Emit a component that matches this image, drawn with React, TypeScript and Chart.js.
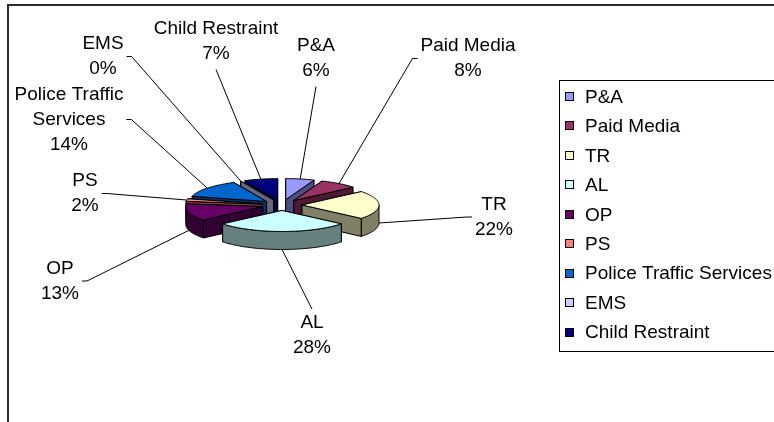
import React, { useEffect, useRef } from "react";
import { Chart, registerables } from "chart.js";

Chart.register(...registerables);

// ---- data ----
const categories = [
  "P&A",
  "Paid Media",
  "TR",
  "AL",
  "OP",
  "PS",
  "Police Traffic Services",
  "EMS",
  "Child Restraint",
];
const shares = [6, 8, 22, 28, 13, 2, 14, 0, 7];
const sliceColors = [
  "#9999FF",
  "#993366",
  "#FFFFCC",
  "#CCFFFF",
  "#660066",
  "#FF8080",
  "#0066CC",
  "#CCCCFF",
  "#000080",
];
const labelText = [
  ["P&A"],
  ["Paid Media"],
  ["TR"],
  ["AL"],
  ["OP"],
  ["PS"],
  ["Police Traffic", "Services"],
  ["EMS"],
  ["Child Restraint"],
];

// ---- layout (not data) ----
const TILT = 0.273; // vertical squash of the pie disc
const DEPTH = 18; // thickness of the pie in px
const EXPLODE = 20;
const RADIUS = 77;
// label block centres, relative to the pie centre
const labelOffsets: [number, number][] = [
  [34, -146.5],
  [186, -146.5],
  [212, 12],
  [30, 130],
  [-222, 76],
  [-197, -11.5],
  [-213, -85.5],
  [-179, -148.5],
  [-66, -163.5],
];
const FONT = "Liberation Sans, Arial, sans-serif";

function shade(hex: string, f: number) {
  const n = parseInt(hex.slice(1), 16);
  const r = Math.round(((n >> 16) & 255) * f);
  const g = Math.round(((n >> 8) & 255) * f);
  const b = Math.round((n & 255) * f);
  return `rgb(${r},${g},${b})`;
}

type Pt = [number, number];

function poly(ctx: CanvasRenderingContext2D, pts: Pt[], fill: string) {
  ctx.beginPath();
  ctx.moveTo(pts[0][0], pts[0][1]);
  for (let i = 1; i < pts.length; i++) ctx.lineTo(pts[i][0], pts[i][1]);
  ctx.closePath();
  ctx.fillStyle = fill;
  ctx.fill();
  ctx.stroke();
}

function sliceGeom(arc: any) {
  const p = arc.getProps(["x", "y", "startAngle", "endAngle", "outerRadius"], true);
  const off = (arc.options && arc.options.offset) || 0;
  const mid = (p.startAngle + p.endAngle) / 2;
  const ex = p.x + off * Math.cos(mid);
  const ey = p.y + TILT * off * Math.sin(mid);
  const R = p.outerRadius;
  const P = (t: number, z: number): Pt => [ex + R * Math.cos(t), ey + TILT * R * Math.sin(t) + z];
  return { ...p, off, mid, ex, ey, R, P };
}

function arcPts(P: (t: number, z: number) => Pt, t0: number, t1: number, z: number): Pt[] {
  const n = Math.max(2, Math.ceil(Math.abs(t1 - t0) / 0.02));
  const out: Pt[] = [];
  for (let k = 0; k <= n; k++) out.push(P(t0 + ((t1 - t0) * k) / n, z));
  return out;
}

const pie3d = {
  id: "pie3d",
  beforeDatasetsDraw(chart: any) {
    const ctx: CanvasRenderingContext2D = chart.ctx;
    const meta = chart.getDatasetMeta(0);
    const colors: string[] = chart.data.datasets[0].backgroundColor;
    const items = meta.data.map((arc: any, i: number) => ({ i, g: sliceGeom(arc) }));
    items.sort((a: any, b: any) => Math.sin(a.g.mid) - Math.sin(b.g.mid));
    ctx.save();
    ctx.lineWidth = 1;
    ctx.strokeStyle = "#000";
    ctx.lineJoin = "round";
    for (const it of items) {
      const g = it.g;
      const col = colors[it.i];
      const dark = shade(col, 0.5);
      const a = g.startAngle;
      const b = g.endAngle;
      const walls = [
        { ang: a, vis: Math.cos(a) < 0 },
        { ang: b, vis: Math.cos(b) > 0 },
      ].sort((w1, w2) => (w1.vis ? 1 : 0) - (w2.vis ? 1 : 0));
      for (const w of walls) {
        poly(ctx, [[g.ex, g.ey], g.P(w.ang, 0), g.P(w.ang, DEPTH), [g.ex, g.ey + DEPTH]], dark);
      }
      const lo = Math.max(a, 0);
      const hi = Math.min(b, Math.PI);
      if (hi - lo > 1e-6) {
        const top = arcPts(g.P, lo, hi, 0);
        const bot = arcPts(g.P, hi, lo, DEPTH);
        poly(ctx, [...top, ...bot], dark);
      }
      if (b - a > 1e-6) {
        poly(ctx, [[g.ex, g.ey], ...arcPts(g.P, a, b, 0)], col);
      }
    }
    ctx.restore();
    return false;
  },
  afterDraw(chart: any) {
    const ctx: CanvasRenderingContext2D = chart.ctx;
    const meta = chart.getDatasetMeta(0);
    const ds = chart.data.datasets[0];
    const values: number[] = ds.data;
    const colors: string[] = ds.backgroundColor;
    const labels: string[] = chart.data.labels;
    const total = values.reduce((s, v) => s + v, 0);
    ctx.save();

    // outer frame
    ctx.fillStyle = "#2a2a2a";
    ctx.fillRect(7, 4, chart.width, 2);
    ctx.fillRect(7, 4, 2, chart.height);

    // data labels with leader lines
    ctx.font = `19px ${FONT}`;
    ctx.textAlign = "center";
    ctx.textBaseline = "middle";
    ctx.strokeStyle = "#000";
    ctx.lineWidth = 1;
    const lh = 25;
    meta.data.forEach((arc: any, i: number) => {
      const g = sliceGeom(arc);
      const lines = [...labelText[i], `${Math.round((values[i] / total) * 100)}%`];
      const [dx, dy] = labelOffsets[i];
      const lx = g.x + dx;
      const ly = g.y + dy;
      const w = Math.max(...lines.map((s) => ctx.measureText(s).width));
      const h = (lines.length * lh) / 2;
      const slicePt = g.P(g.mid, Math.sin(g.mid) > -0.1 ? DEPTH : 0);
      const path: Pt[] = [slicePt];
      if (Math.abs(dx) > 120) {
        if (dx < 0) {
          path.push([lx + w / 2 + 8, ly], [lx + w / 2 + 3, ly]);
        } else {
          path.push([lx - w / 2 - 8, ly], [lx - w / 2 - 3, ly]);
        }
      } else if (dy < 0) {
        path.push([lx, ly + h + 3]);
      } else {
        path.push([lx, ly - h - 1]);
      }
      ctx.beginPath();
      ctx.moveTo(path[0][0], path[0][1]);
      for (let k = 1; k < path.length; k++) ctx.lineTo(path[k][0], path[k][1]);
      ctx.stroke();
      ctx.fillStyle = "#000";
      lines.forEach((s, k) => ctx.fillText(s, lx, ly - h + lh / 2 + k * lh));
    });

    // legend
    const lgLeft = 559.5;
    const lgTop = 80.5;
    const lgBottom = 351.5;
    ctx.strokeStyle = "#000";
    ctx.lineWidth = 1;
    ctx.strokeRect(lgLeft, lgTop, chart.width, lgBottom - lgTop);
    ctx.font = `19px ${FONT}`;
    ctx.textAlign = "left";
    ctx.textBaseline = "middle";
    const step = 29.45;
    const y0 = 96.5;
    labels.forEach((lab, i) => {
      const yc = y0 + i * step;
      ctx.fillStyle = colors[i];
      ctx.fillRect(565, Math.round(yc - 4.5), 9, 9);
      ctx.strokeRect(565.5, Math.round(yc - 4.5) + 0.5, 8, 8);
      ctx.fillStyle = "#000";
      ctx.fillText(lab, 585, yc + 1);
    });
    ctx.restore();
  },
};

export default function App() {
  const ref = useRef<HTMLCanvasElement | null>(null);
  useEffect(() => {
    if (!ref.current) return;
    const chart = new Chart(ref.current, {
      type: "pie",
      data: {
        labels: categories,
        datasets: [
          {
            data: shares,
            backgroundColor: sliceColors,
            borderColor: "#000",
            borderWidth: 1,
            offset: EXPLODE,
          },
        ],
      },
      options: {
        animation: false,
        responsive: true,
        maintainAspectRatio: false,
        devicePixelRatio: 1,
        events: [],
        radius: RADIUS,
        layout: { padding: { left: 0, right: 210, top: 0, bottom: 12 } },
        plugins: { legend: { display: false }, tooltip: { enabled: false } },
      } as any,
      plugins: [pie3d as any],
    });
    return () => chart.destroy();
  }, []);
  return (
    <div
      style={{
        position: "fixed",
        left: 0,
        top: 0,
        width: 774,
        height: 422,
        background: "#fff",
        overflow: "hidden",
      }}
    >
      <canvas ref={ref} />
    </div>
  );
}
